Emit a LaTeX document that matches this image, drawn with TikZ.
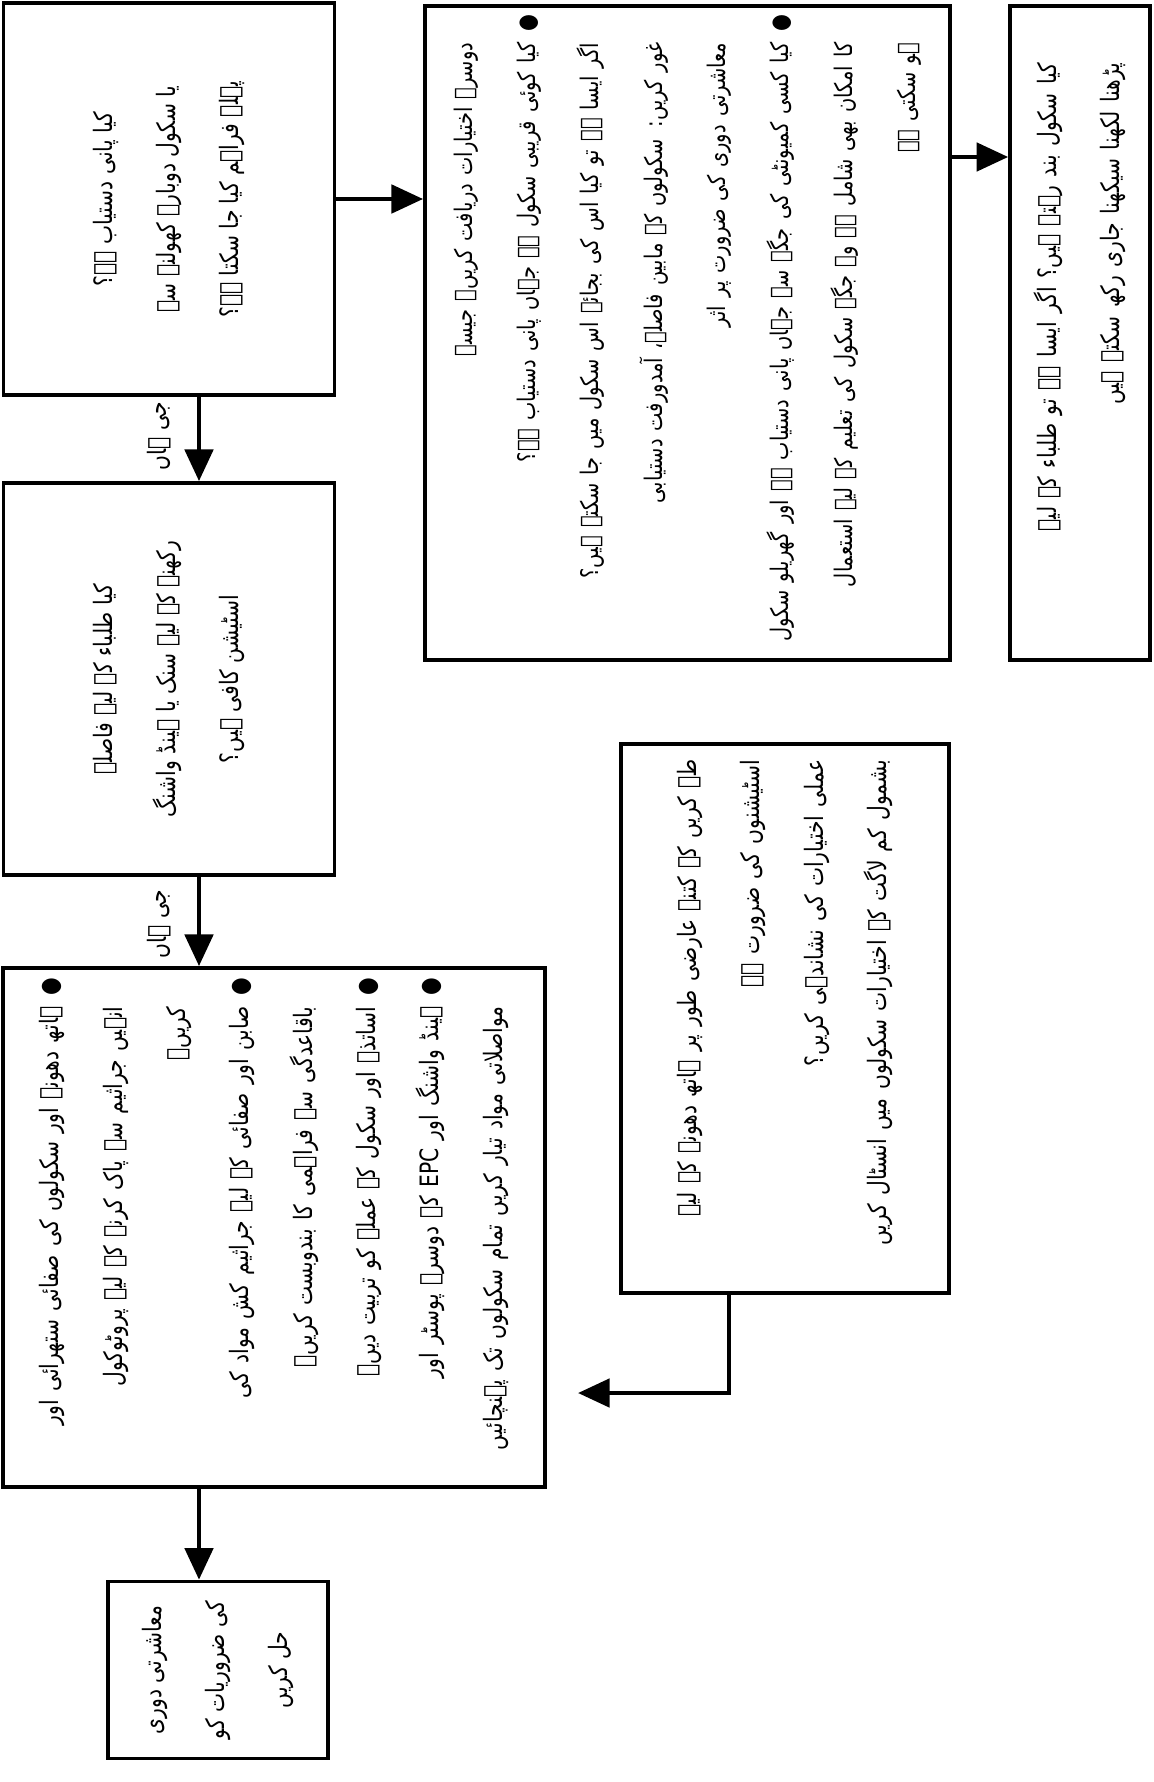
\documentclass[tikz,border=0pt]{standalone}
\usepackage{fontspec}
\newfontfamily\urdufont[Script=Arabic, FakeStretch=0.8]{DejaVu Sans}
\TeXXeTstate=1
\usetikzlibrary{arrows.meta}
\newcommand{\urd}[1]{\mbox{\beginR#1\endR}}
\newcommand{\blt}{\makebox[1.15em][l]{●}}
\newcommand{\ind}{\hspace*{1.15em}}
\tikzstyle{box} = [rectangle, draw=black, line width=1pt, rotate=90, inner sep=0pt, font=\urdufont\fontsize{7.2}{18}\selectfont]
\tikzstyle{ans} = [rotate=90, inner sep=0pt, font=\urdufont\fontsize{7.2}{18}\selectfont]
\tikzstyle{arrow} = [line width=1.3pt, -{Triangle[length=9pt, width=8pt]}]

\begin{document}
\begin{tikzpicture}[x=0.01cm, y=-0.01cm]

\useasboundingbox (0,0) rectangle (1153,1782);

\node (water) [box, minimum width=3.92cm, minimum height=3.31cm, align=center] at (169,199)
  {\urd{کیا پانی دستیاب ہے؟}\\ \urd{یا سکول دوبارہ کھولنے سے}\\ \urd{پہلے فراہم کیا جا سکتا ہے؟}};
\node (sinks) [box, minimum width=3.92cm, minimum height=3.31cm, align=center] at (169,679)
  {\urd{کیا طلباء کے لیے فاصلہ}\\ \urd{رکھنے کے لیے سنک یا ہینڈ واشنگ}\\ \urd{اسٹیشن کافی ہیں؟}};
\node (hygiene) [box, minimum width=5.19cm, minimum height=5.42cm, text width=5.0cm, align=right] at (274,1227.5)
  {\urd{\blt ہاتھ دھونے اور سکولوں کی صفائی ستھرائی اور}\\
   \urd{\ind انہیں جراثیم سے پاک کرنے کے لیے پروٹوکول}\\
   \urd{\ind کریں۔}\\
   \urd{\blt صابن اور صفائی کے لیے جراثیم کش مواد کی}\\
   \urd{\ind باقاعدگی سے فراہمی کا بندوبست کریں۔}\\
   \urd{\blt اساتذہ اور سکول کے عملے کو تربیت دیں۔}\\
   \urd{\blt ہینڈ واشنگ اور \beginL EPC\endL{} کے دوسرے پوسٹر اور}\\
   \urd{\ind مواصلاتی مواد تیار کریں تمام سکولوں تک پہنچائیں}};
\node (distance) [box, minimum width=1.77cm, minimum height=2.2cm, align=center] at (218,1670)
  {\urd{معاشرتی دوری}\\ \urd{کی ضروریات کو}\\ \urd{حل کریں}};

\node (options) [box, font=\urdufont\fontsize{6.9}{18}\selectfont, minimum width=6.54cm, minimum height=5.25cm, text width=6.36cm, align=right] at (687.5,333)
  {\urd{\ind دوسرے اختیارات دریافت کریں۔ جیسے}\\
   \urd{\blt کیا کوئی قریبی سکول ہے جہاں پانی دستیاب ہے؟}\\
   \urd{\ind اگر ایسا ہے تو کیا اس کی بجائے اس سکول میں جا سکتے ہیں؟}\\
   \urd{\ind غور کریں: سکولوں کے مابین فاصلہ، آمدورفت دستیابی}\\
   \urd{\ind معاشرتی دوری کی ضرورت پر اثر}\\
   \urd{\blt کیا کسی کمیونٹی کی جگہ سے جہاں پانی دستیاب ہے اور گھریلو سکول}\\
   \urd{\ind کا امکان بھی شامل ہے وہ جگہ سکول کی تعلیم کے لیے استعمال}\\
   \urd{\ind ہو سکتی ہے}};
\node (closed) [box, minimum width=6.54cm, minimum height=1.4cm, text width=5.4cm, align=right] at (1080,333)
  {\urd{کیا سکول بند رہتے ہیں؟ اگر ایسا ہے تو طلباء کے لیے}\\ \urd{پڑھنا لکھنا سیکھنا جاری رکھ سکتے ہیں}};
\node (stations) [box, minimum width=5.49cm, minimum height=3.28cm, text width=5.17cm, align=right] at (785,1018.5)
  {\urd{طے کریں کہ کتنے عارضی طور پر ہاتھ دھونے کے لیے}\\
   \urd{اسٹیشنوں کی ضرورت ہے}\\
   \urd{عملی اختیارات کی نشاندہی کریں؟}\\
   \urd{بشمول کم لاگت کے اختیارات سکولوں میں انسٹال کریں}};

\node (yes1) [ans] at (159,436) {\urd{جی ہاں}};
\node (yes2) [ans] at (159,924) {\urd{جی ہاں}};

\coordinate (col) at (199,0);
\coordinate (row) at (0,199);
\coordinate (side) at (0,157);
\coordinate (back) at (578,1393);

\draw [arrow] (water.west -| col) -- (sinks.east -| col);
\draw [arrow] (sinks.west -| col) -- (hygiene.east -| col);
\draw [arrow] (hygiene.west -| col) -- (distance.east -| col);

\draw [arrow] (water.south |- row) -- (options.north |- row);
\draw [arrow] (options.south |- side) -- (closed.north |- side);

\draw [arrow] ([xshift=-0.56cm]stations.west) |- (back);

\end{tikzpicture}
\end{document}
